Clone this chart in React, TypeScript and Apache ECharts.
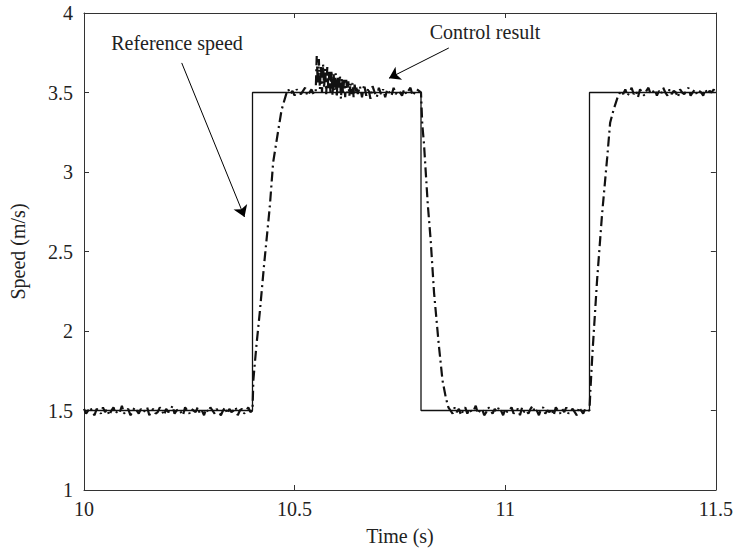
import React, { useEffect, useRef } from "react";
import * as echarts from "echarts";

// Reference (commanded) speed: step profile
const refTime = [10.0, 10.4, 10.4, 10.8, 10.8, 11.2, 11.2, 11.5];
const refSpeed = [1.5, 1.5, 3.5, 3.5, 1.5, 1.5, 3.5, 3.5];

// Control result: sampled segments (start time, step, values)
const lowA = { start: 10.0, step: 0.005 };
const lowAValues = [
  1.51, 1.48, 1.5, 1.52, 1.49, 1.47, 1.51, 1.5, 1.48, 1.52,
  1.49, 1.51, 1.47, 1.5, 1.52, 1.48, 1.5, 1.49, 1.53, 1.48,
  1.5, 1.51, 1.47, 1.49, 1.52, 1.5, 1.48, 1.51, 1.49, 1.5,
  1.52, 1.47, 1.5, 1.51, 1.48, 1.49, 1.52, 1.5, 1.47, 1.51,
  1.49, 1.5, 1.53, 1.48, 1.5, 1.51, 1.49, 1.47, 1.52, 1.5,
  1.48, 1.51, 1.5, 1.49, 1.52, 1.48, 1.5, 1.47, 1.51, 1.49,
  1.52, 1.5, 1.48, 1.51, 1.49, 1.47, 1.5, 1.52, 1.48, 1.51,
  1.49, 1.5, 1.52, 1.47, 1.5, 1.51, 1.48, 1.5, 1.52, 1.49,
];
const rise1 = [
  [10.4, 1.5], [10.402, 1.69], [10.409, 1.9], [10.417, 2.11], [10.428, 2.43],
  [10.441, 2.78], [10.449, 3.06], [10.461, 3.26], [10.469, 3.39], [10.48, 3.49],
];
const highB = { start: 10.485, step: 0.005 };
const highBValues = [3.52, 3.49, 3.51, 3.48, 3.52, 3.5, 3.49, 3.51, 3.53, 3.48, 3.5, 3.52, 3.49];
const spike = { start: 10.55, step: 0.0025 };
const spikeValues = [
  3.5, 3.73, 3.55, 3.71, 3.52, 3.67, 3.5, 3.68, 3.53, 3.65,
  3.49, 3.66, 3.52, 3.63, 3.5, 3.64, 3.48, 3.62, 3.51, 3.62,
  3.47, 3.6, 3.5, 3.61, 3.46, 3.59, 3.49, 3.58, 3.47, 3.58,
  3.5, 3.57, 3.48, 3.56, 3.49, 3.56, 3.47, 3.55, 3.5, 3.54, 3.49,
];
const highC = { start: 10.655, step: 0.005 };
const highCValues = [
  3.54, 3.47, 3.55, 3.48, 3.53, 3.46, 3.54, 3.5, 3.47, 3.53,
  3.49, 3.52, 3.47, 3.52, 3.5, 3.48, 3.53, 3.49, 3.51, 3.5,
  3.48, 3.52, 3.49, 3.51, 3.53, 3.48, 3.5, 3.52, 3.51,
];
const fall = [
  [10.8, 3.5], [10.803, 3.3], [10.807, 3.18], [10.816, 2.8], [10.823, 2.57],
  [10.831, 2.24], [10.842, 1.92], [10.851, 1.69], [10.859, 1.58], [10.865, 1.52],
];
const lowD = { start: 10.87, step: 0.005 };
const lowDValues = [
  1.5, 1.48, 1.52, 1.49, 1.51, 1.47, 1.5, 1.52, 1.48, 1.51,
  1.49, 1.5, 1.53, 1.48, 1.5, 1.51, 1.47, 1.49, 1.52, 1.5,
  1.48, 1.51, 1.49, 1.52, 1.5, 1.47, 1.51, 1.49, 1.5, 1.52,
  1.48, 1.5, 1.51, 1.47, 1.52, 1.49, 1.5, 1.48, 1.51, 1.53,
  1.49, 1.5, 1.47, 1.51, 1.52, 1.48, 1.5, 1.49, 1.51, 1.47,
  1.52, 1.5, 1.48, 1.51, 1.49, 1.52, 1.48, 1.5, 1.51, 1.49,
  1.47, 1.52, 1.5, 1.48, 1.51, 1.5,
];
const rise2 = [
  [11.2, 1.5], [11.202, 1.62], [11.207, 1.86], [11.218, 2.32], [11.23, 2.74],
  [11.242, 3.09], [11.249, 3.31], [11.257, 3.39], [11.268, 3.48],
];
const highE = { start: 11.275, step: 0.005 };
const highEValues = [
  3.51, 3.49, 3.52, 3.48, 3.5, 3.53, 3.49, 3.51, 3.47, 3.52,
  3.5, 3.48, 3.51, 3.53, 3.49, 3.5, 3.52, 3.48, 3.51, 3.49,
  3.53, 3.5, 3.48, 3.52, 3.49, 3.51, 3.5, 3.47, 3.52, 3.5,
  3.49, 3.51, 3.53, 3.48, 3.5, 3.52, 3.49, 3.51, 3.5, 3.48,
  3.52, 3.49, 3.51, 3.5, 3.52, 3.49,
];

// Annotation arrows (tail, head) in data coordinates
const refArrow = [[10.232, 3.686], [10.381, 2.717]];
const ctrlArrow = [[10.866, 3.78], [10.724, 3.59]];

const xTicks = { min: 10, max: 11.5, interval: 0.5 };
const yTicks = { min: 1, max: 4, interval: 0.5 };

function sampled(seg: { start: number; step: number }, vals: number[]) {
  return vals.map((v, i) => [+(seg.start + i * seg.step).toFixed(4), v]);
}

const FONT = "Liberation Serif";

export default function App() {
  const ref = useRef<HTMLDivElement>(null);
  useEffect(() => {
    if (!ref.current) return;
    const chart = echarts.init(ref.current, null, { renderer: "svg" });
    const control = [
      ...sampled(lowA, lowAValues),
      ...rise1,
      ...sampled(highB, highBValues),
      ...sampled(spike, spikeValues),
      ...sampled(highC, highCValues),
      ...fall,
      ...sampled(lowD, lowDValues),
      ...rise2,
      ...sampled(highE, highEValues),
    ];
    const reference = refTime.map((t, i) => [t, refSpeed[i]]);
    const axisLine = { show: true, onZero: false, lineStyle: { color: "#333", width: 1 } };
    const tick = { show: true, inside: true, length: 5, lineStyle: { color: "#333" } };
    const labelStyle = { fontFamily: FONT, fontSize: 20, color: "#222" };
    const arrowLine = (a: number[][]) => ({
      silent: true,
      symbol: ["none", "arrow"],
      symbolSize: 11,
      label: { show: false },
      emphasis: { disabled: true },
      lineStyle: { color: "#000", width: 1, type: "solid" },
      data: [[{ coord: a[0] }, { coord: a[1] }]],
    });
    chart.setOption({
      animation: false,
      backgroundColor: "#fff",
      grid: { left: 82, right: 20, top: 13, bottom: 64 },
      xAxis: [
        {
          type: "value",
          min: xTicks.min,
          max: xTicks.max,
          interval: xTicks.interval,
          name: "Time (s)",
          nameLocation: "middle",
          nameGap: 36,
          nameTextStyle: labelStyle,
          axisLine,
          axisTick: tick,
          axisLabel: { ...labelStyle, margin: 9 },
          splitLine: { show: false },
        },
        {
          type: "value",
          position: "top",
          min: xTicks.min,
          max: xTicks.max,
          interval: xTicks.interval,
          axisLine,
          axisTick: tick,
          axisLabel: { show: false },
          splitLine: { show: false },
        },
      ],
      yAxis: [
        {
          type: "value",
          min: yTicks.min,
          max: yTicks.max,
          interval: yTicks.interval,
          name: "Speed (m/s)",
          nameLocation: "middle",
          nameGap: 56,
          nameTextStyle: labelStyle,
          axisLine,
          axisTick: tick,
          axisLabel: { ...labelStyle, margin: 11 },
          splitLine: { show: false },
        },
        {
          type: "value",
          position: "right",
          min: yTicks.min,
          max: yTicks.max,
          interval: yTicks.interval,
          axisLine,
          axisTick: tick,
          axisLabel: { show: false },
          splitLine: { show: false },
        },
      ],
      series: [
        {
          name: "Reference speed",
          type: "line",
          data: reference,
          showSymbol: false,
          lineStyle: { color: "#111", width: 1.3 },
          z: 3,
          markLine: arrowLine(refArrow),
        },
        {
          name: "Control result",
          type: "line",
          data: control,
          showSymbol: false,
          lineStyle: { color: "#111", width: 2.2, type: [10, 4, 2, 4] },
          z: 4,
          markLine: arrowLine(ctrlArrow),
        },
      ],
      graphic: [
        {
          type: "text",
          x: 177,
          y: 43,
          style: { text: "Reference speed", font: `20px "${FONT}"`, fill: "#222", align: "center", verticalAlign: "middle" },
        },
        {
          type: "text",
          x: 485,
          y: 32,
          style: { text: "Control result", font: `20px "${FONT}"`, fill: "#222", align: "center", verticalAlign: "middle" },
        },
      ],
    });
    return () => chart.dispose();
  }, []);
  return (
    <div
      ref={ref}
      style={{ position: "fixed", left: 0, top: 0, width: 736, height: 554 }}
    />
  );
}
